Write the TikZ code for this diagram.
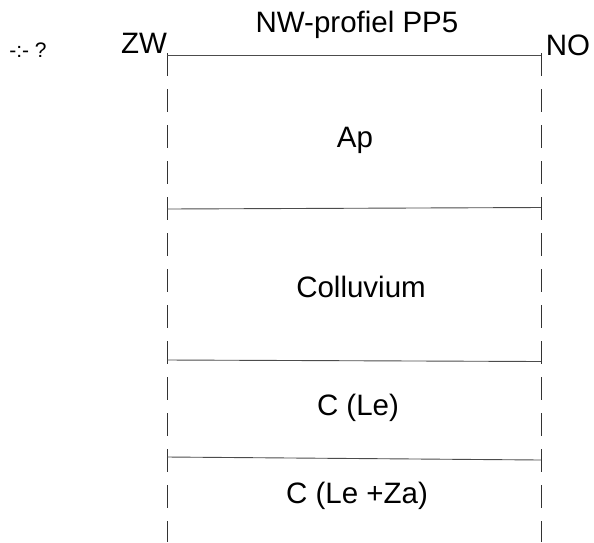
\documentclass[tikz,border=0pt]{standalone}
\usepackage{fontspec}
\setmainfont{Liberation Sans}
\usetikzlibrary{positioning}
\tikzset{
	labelnode/.style={anchor=base, inner sep=0pt, font=\fontsize{29.5}{32}\selectfont},
	smallnode/.style={anchor=base, inner sep=0pt, font=\fontsize{21}{23}\selectfont},
	layerline/.style={draw=black!70, line width=0.9pt},
	sideline/.style={draw=black!80, line width=0.9pt, dash pattern=on 23pt off 13pt}
}

\begin{document}
\begin{tikzpicture}[x=1pt, y=-1pt]
		\useasboundingbox (0,0) rectangle (594,542);
		
		\coordinate (zw0) at (167,53);
		\coordinate (no0) at (541,53);
		\coordinate (zwt) at (167,55);
		\coordinate (not) at (541,55);
		\coordinate (zw1) at (167,209);
		\coordinate (no1) at (541,207.5);
		\coordinate (zw2) at (167,360);
		\coordinate (no2) at (541,361.5);
		\coordinate (zw3) at (167,457);
		\coordinate (no3) at (541,460);
		\coordinate (zwb) at (167,542);
		\coordinate (nob) at (541,542);
		
		\draw[sideline] (zw0) -- (zwb);
		\draw[sideline] (no0) -- (nob);
		\draw[layerline] (zwt) -- (not);
		\draw[layerline] (zw1) -- (no1);
		\draw[layerline] (zw2) -- (no2);
		\draw[layerline] (zw3) -- (no3);
		
		\node[labelnode] at (357,32) (title) {NW-profiel PP5};
		\node[labelnode] at (144,53) (zw) {ZW};
		\node[labelnode] at (568,55) (no) {NO};
		\node[smallnode] at (28,57) (q) {-:- ?};
		\node[labelnode] at (355,147) (ap) {Ap};
		\node[labelnode] at (361,297) (coll) {Colluvium};
		\node[labelnode] at (358,415) (cle) {C (Le)};
		\node[labelnode] at (357,503) (cleza) {C (Le +Za)};
	\end{tikzpicture}
\end{document}
